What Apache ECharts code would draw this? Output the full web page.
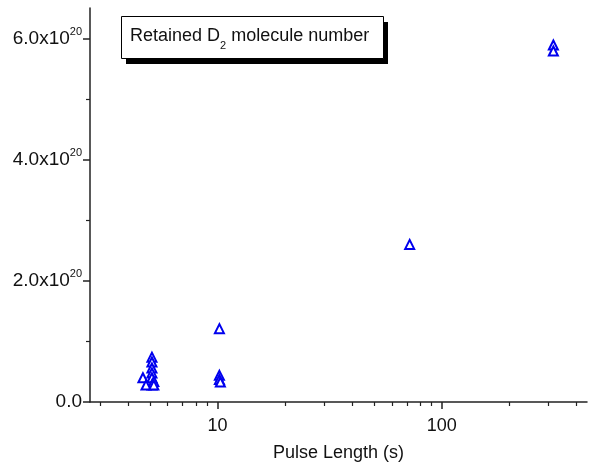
<!DOCTYPE html>
<html>
<head><meta charset="utf-8"></head>
<script type="text/javascript" src="https://cdn.jsdelivr.net/npm/echarts@6/dist/echarts.min.js"></script>
<body style="margin:0;background:#fff;">
    <div id="main" style="width:589px;height:467px;"></div>
</body>
<script type="text/javascript">
// pulse length (s) and retained D2 molecules (x1e20)
var pulse    = [5.1, 5.1, 5.1, 5.1, 5.1, 5.2, 5.1, 4.65, 4.8, 5.2, 10.2, 10.2, 10.2, 10.3, 72, 315, 315];
var retained = [0.74, 0.66, 0.56, 0.48, 0.40, 0.34, 0.28, 0.40, 0.28, 0.28, 1.21, 0.44, 0.37, 0.33, 2.60, 5.89, 5.79];
var xMajor = [10, 100];
var xMinor = [3, 4, 5, 6, 7, 8, 9, 20, 30, 40, 50, 60, 70, 80, 90, 200, 300, 400];
var yTicks = [0, 2e20, 4e20, 6e20];

var data = [];
for (var i = 0; i < pulse.length; i++) {
    data.push([pulse[i], retained[i] * 1e20]);
}

var font = 'Liberation Sans, Arial, sans-serif';
var myChart = echarts.init(document.getElementById('main'));
var logX = {type: 'log', logBase: 10, min: 2.7, max: 445, gridIndex: 0};

myChart.setOption({
    animation: false,
    grid: {left: 90, right: 2, top: 8, bottom: 65},
    xAxis: [
        Object.assign({}, logX, {
            position: 'bottom',
            name: 'Pulse Length (s)',
            nameLocation: 'middle',
            nameGap: 42,
            nameTextStyle: {fontFamily: font, fontSize: 18, color: '#111'},
            axisLine: {lineStyle: {color: '#222', width: 1.5}},
            axisTick: {length: 7, customValues: xMajor, lineStyle: {color: '#222', width: 1.5}},
            axisLabel: {customValues: xMajor, margin: 15, fontFamily: font, fontSize: 18, color: '#111',
                formatter: function (v) { return String(Math.round(v)); }},
            splitLine: {show: false}
        }),
        Object.assign({}, logX, {
            position: 'bottom',
            axisLine: {show: false},
            axisTick: {length: 4, customValues: xMinor, lineStyle: {color: '#222', width: 1.2}},
            axisLabel: {show: false},
            splitLine: {show: false}
        })
    ],
    yAxis: {
        type: 'value',
        min: 0,
        max: 6.5e20,
        interval: 2e20,
        axisLine: {show: true, lineStyle: {color: '#222', width: 1.5}},
        axisTick: {show: true, length: 7, customValues: yTicks, lineStyle: {color: '#222', width: 1.5}},
        minorTick: {show: true, splitNumber: 2, length: 4, lineStyle: {color: '#222', width: 1.2}},
        splitLine: {show: false},
        axisLabel: {
            customValues: yTicks,
            margin: 8,
            fontFamily: font,
            color: '#111',
            formatter: function (v) {
                if (v === 0) return '{b|0.0}';
                return '{b|' + (v / 1e20).toFixed(1) + 'x10}{s|20}';
            },
            rich: {
                b: {fontFamily: font, fontSize: 19, lineHeight: 24, color: '#111'},
                s: {fontFamily: font, fontSize: 11, lineHeight: 11, verticalAlign: 'top', color: '#111'}
            }
        }
    },
    graphic: [
        {type: 'rect', left: 126, top: 22, shape: {width: 262, height: 42}, style: {fill: '#000'}, z: 10},
        {type: 'rect', left: 121, top: 16, shape: {width: 262, height: 42}, style: {fill: '#fff', stroke: '#000', lineWidth: 1}, z: 11},
        {type: 'text', left: 130, top: 27, z: 12,
            style: {
                text: '{a|Retained D}{u|2}{a| molecule number}',
                rich: {
                    a: {fontFamily: font, fontSize: 18, lineHeight: 22, fill: '#111'},
                    u: {fontFamily: font, fontSize: 11, lineHeight: 11, verticalAlign: 'bottom', padding: [0, 0, -4, 0], fill: '#111'}
                }
            }}
    ],
    series: [{
        type: 'scatter',
        xAxisIndex: 0,
        data: data,
        symbol: 'triangle',
        symbolSize: 9,
        itemStyle: {color: '#fff', borderColor: '#0000ee', borderWidth: 2, opacity: 1}
    }]
});
</script>
</html>
